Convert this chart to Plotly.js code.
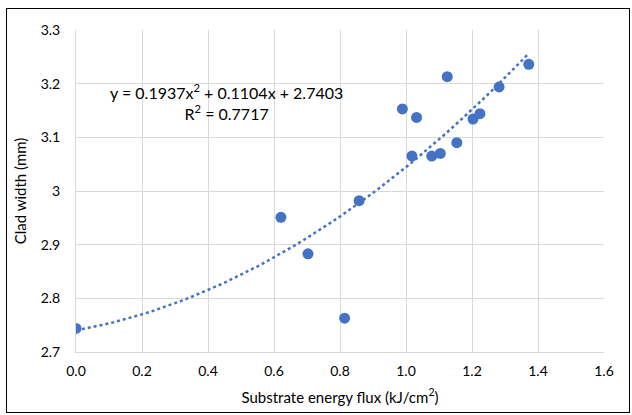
<!DOCTYPE html>
<html>
<head>
<meta charset="utf-8">
<script src="https://cdn.plot.ly/plotly-3.0.1.min.js"></script>
<style>
  html, body { margin: 0; padding: 0; background: #ffffff; }
  #wrap { position: relative; width: 632px; height: 415px; }
  #chart { position: absolute; left: 0; top: 0; width: 632px; height: 415px; }
  #frame { position: absolute; left: 6px; top: 8px; width: 622px; height: 403px;
           border: 1.5px solid #000; pointer-events: none; }
</style>
</head>
<body>
<div id="wrap">
  <div id="chart"></div>
  <div id="frame"></div>
</div>
<script>
// Data
const energyFlux = [0.0, 0.621, 0.703, 0.814, 0.858, 0.989, 1.018, 1.032, 1.078, 1.104, 1.125, 1.154, 1.203, 1.224, 1.282, 1.372];
const cladWidth  = [2.744, 2.951, 2.883, 2.763, 2.982, 3.153, 3.065, 3.137, 3.065, 3.070, 3.213, 3.090, 3.134, 3.144, 3.194, 3.236];

// Polynomial trendline coefficients shown on the chart
const fitA = 0.1937, fitB = 0.1104, fitC = 2.7403;
const fitR2 = 0.7717;

const xTickVals = [0, 0.2, 0.4, 0.6, 0.8, 1.0, 1.2, 1.4, 1.6];
const xTickText = ['0.0', '0.2', '0.4', '0.6', '0.8', '1.0', '1.2', '1.4', '1.6'];
const yTickVals = [2.7, 2.8, 2.9, 3.0, 3.1, 3.2, 3.3];
const yTickText = ['2.7', '2.8', '2.9', '3', '3.1', '3.2', '3.3'];

// Trendline sampled from the displayed equation over the data range
const xMin = Math.min(...energyFlux), xMax = Math.max(...energyFlux);
const trendX = [], trendY = [];
for (let i = 0; i <= 60; i++) {
  const x = xMin + (xMax - xMin) * i / 60;
  trendX.push(x);
  trendY.push(fitA * x * x + fitB * x + fitC);
}

const blue = '#4472C4';
const font = 'Lato, "Open Sans", sans-serif';

const traces = [
  {
    x: trendX, y: trendY, type: 'scatter', mode: 'lines',
    line: { color: blue, width: 2.5, dash: 'dot' },
    hoverinfo: 'skip', showlegend: false
  },
  {
    x: energyFlux, y: cladWidth, type: 'scatter', mode: 'markers',
    marker: { color: blue, size: 11 },
    showlegend: false
  }
];

const layout = {
  width: 632, height: 415,
  margin: { l: 76, r: 28, t: 30, b: 63 },
  paper_bgcolor: '#ffffff', plot_bgcolor: '#ffffff',
  font: { family: font, size: 14, color: '#000' },
  showlegend: false,
  xaxis: {
    range: [0, 1.6], tickvals: xTickVals, ticktext: xTickText,
    showgrid: true, gridcolor: '#d9d9d9', gridwidth: 1,
    zeroline: false, showline: true, linecolor: '#d9d9d9', linewidth: 1,
    ticks: '', ticklabelstandoff: 6,
    tickfont: { family: font, size: 14, color: '#000' },
    title: { text: 'Substrate energy flux (kJ/cm<sup>2</sup>)', font: { family: font, size: 15, color: '#000' }, standoff: 14 },
    automargin: false, mirror: false
  },
  yaxis: {
    range: [2.7, 3.3], tickvals: yTickVals, ticktext: yTickText,
    showgrid: true, gridcolor: '#d9d9d9', gridwidth: 1,
    zeroline: false, showline: true, linecolor: '#d9d9d9', linewidth: 1,
    ticks: '', ticklabelstandoff: 12,
    tickfont: { family: font, size: 14, color: '#000' },
    title: { text: 'Clad width (mm)', font: { family: font, size: 15, color: '#000' }, standoff: 10 },
    automargin: false
  },
  annotations: [
    {
      x: 0.456, y: 3.166, xref: 'x', yref: 'y', showarrow: false,
      text: 'y = ' + fitA + 'x<sup>2</sup> + ' + fitB + 'x + ' + fitC + '<br>R<sup>2</sup> = ' + fitR2,
      align: 'center', font: { family: font, size: 16, color: '#000' }
    }
  ]
};

Plotly.newPlot('chart', traces, layout, { displayModeBar: false, staticPlot: true });
</script>
</body>
</html>
